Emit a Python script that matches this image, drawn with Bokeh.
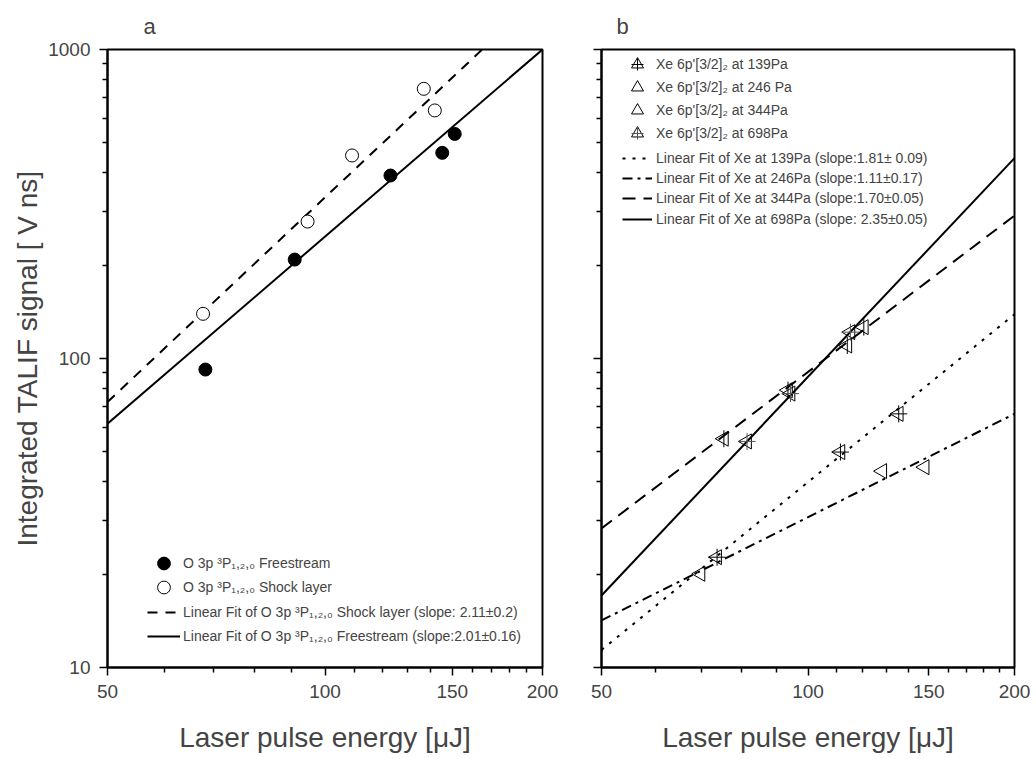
import numpy as np
from bokeh.plotting import figure
from bokeh.layouts import row
from bokeh.models import (FixedTicker, PrintfTickFormatter, CustomJSTickFormatter,
                          Legend, LegendItem, Range1d)
from bokeh.embed import file_html
from bokeh.resources import INLINE

# ---------------- Panel a data (O 3p 3P) ----------------
free_x = [68.3, 90.8, 123.2, 145.3, 151.2]
free_y = [92.1, 209.0, 391.0, 463.0, 533.0]
shock_x = [67.8, 94.6, 109.0, 137.0, 141.9]
shock_y = [139.5, 277.5, 454.0, 746.0, 635.0]
fit_a_x = [50, 200]
fit_shock_y = [72.3, 1526.0]
fit_free_y = [61.5, 1000.0]

# ---------------- Panel b data (Xe 6p'[3/2]2) ----------------
xe139_x = [73.7, 111.5, 135.6]
xe139_y = [22.75, 49.8, 66.2]
xe246_x = [69.7, 128.3, 147.9]
xe246_y = [20.1, 43.2, 44.5]
xe344_x = [75.4, 93.5, 114.1, 120.6]
xe344_y = [55.0, 79.0, 110.2, 126.3]
xe698_x = [81.5, 94.3, 115.3]
xe698_y = [53.9, 77.0, 121.7]
fit_b_x = [50, 200]
fit139_y = [11.4, 139.0]
fit246_y = [14.2, 66.2]
fit344_y = [28.2, 290.0]
fit698_y = [17.1, 445.0]

x_major = [50, 100, 150, 200]
x_minor = [60, 70, 80, 90, 110, 120, 130, 140, 160, 170, 180, 190]
y_major = [10, 100, 1000]
y_minor = [20, 30, 40, 50, 60, 70, 80, 90, 200, 300, 400, 500, 600, 700, 800, 900]

FONT = "Liberation Sans"
H = 759
TOP = 49
FRAME_H = 618
BOTTOM = H - TOP - FRAME_H


def make_fig(title, width, mbl, mbr, title_offset, ylabels):
    p = figure(width=width, height=H, x_axis_type="log", y_axis_type="log",
               x_range=Range1d(50, 200), y_range=Range1d(10, 1000),
               output_backend="svg", toolbar_location=None, title=title,
               min_border_left=mbl, min_border_right=mbr,
               min_border_top=TOP, min_border_bottom=BOTTOM)
    p.title.text_font = FONT
    p.title.text_font_size = "22px"
    p.title.text_font_style = "normal"
    p.title.align = "left"
    p.title.offset = title_offset
    p.title.standoff = 22
    p.xgrid.visible = False
    p.ygrid.visible = False
    p.outline_line_color = "black"
    p.outline_line_width = 2
    p.outline_line_alpha = 1
    p.background_fill_color = "white"
    p.border_fill_color = "white"
    p.xaxis.ticker = FixedTicker(ticks=x_major, minor_ticks=x_minor)
    p.yaxis.ticker = FixedTicker(ticks=y_major, minor_ticks=y_minor)
    p.xaxis.formatter = PrintfTickFormatter(format="%d")
    if ylabels:
        p.yaxis.formatter = PrintfTickFormatter(format="%d")
        p.yaxis.axis_label = "Integrated TALIF signal [ V ns]"
    else:
        p.yaxis.formatter = CustomJSTickFormatter(code="return ''")
    p.xaxis.axis_label = "Laser pulse energy [\u03bcJ]"
    for ax in (p.xaxis[0], p.yaxis[0]):
        ax.axis_line_width = 2
        ax.major_tick_line_width = 1.5
        ax.minor_tick_line_width = 1.5
        ax.major_tick_out = 8
        ax.major_tick_in = 0
        ax.minor_tick_out = 5
        ax.minor_tick_in = 0
        ax.major_label_text_font = FONT
        ax.major_label_text_font_size = "19px"
        ax.axis_label_text_font = FONT
        ax.axis_label_text_font_size = "28px"
        ax.axis_label_text_font_style = "normal"
    p.yaxis.major_label_standoff = 9
    p.yaxis.axis_label_standoff = 2
    p.xaxis.major_label_standoff = 9
    p.xaxis.axis_label_standoff = 21
    return p


def row_legend(p, label, renderers, x, center, gw, standoff):
    # one legend row; center = row centre measured from the frame top (px)
    leg = Legend(items=[LegendItem(label=label, renderers=renderers)],
                 location=(x, FRAME_H - center - 16), glyph_width=gw, glyph_height=32,
                 label_height=32, padding=0, margin=0, spacing=0,
                 label_standoff=standoff, label_text_font=FONT, label_text_font_size="14px",
                 border_line_color=None, background_fill_alpha=0)
    p.add_layout(leg)


# ---------------- Panel a ----------------
pa = make_fig("a", 562, 107, 20, 36, True)
l_shock = pa.line(fit_a_x, fit_shock_y, line_color="black", line_width=2, line_dash="10 8")
l_free = pa.line(fit_a_x, fit_free_y, line_color="black", line_width=2)
s_free = pa.scatter(free_x, free_y, marker="circle", size=13,
                    fill_color="black", line_color="black")
s_shock = pa.scatter(shock_x, shock_y, marker="circle", size=13,
                     fill_color="white", line_color="black", line_width=1)

legend_a = [
    ("O 3p \u00b3P\u2081,\u2082,\u2080 Freestream", [s_free], 514),
    ("O 3p \u00b3P\u2081,\u2082,\u2080 Shock layer", [s_shock], 538),
    ("Linear Fit of O 3p \u00b3P\u2081,\u2082,\u2080 Shock layer (slope: 2.11\u00b10.2)", [l_shock], 563),
    ("Linear Fit of O 3p \u00b3P\u2081,\u2082,\u2080 Freestream (slope:2.01\u00b10.16)", [l_free], 587),
]
for lab, rends, c in legend_a:
    row_legend(pa, lab, rends, 40, c, 33, 3)

# ---------------- Panel b ----------------
pb = make_fig("b", 474, 39, 22, 15, False)
lf139 = pb.line(fit_b_x, fit139_y, line_color="black", line_width=2, line_dash="3 7")
lf246 = pb.line(fit_b_x, fit246_y, line_color="black", line_width=2, line_dash="10 5 3 5")
lf344 = pb.line(fit_b_x, fit344_y, line_color="black", line_width=2, line_dash="13 8")
lf698 = pb.line(fit_b_x, fit698_y, line_color="black", line_width=2)

TRI = dict(marker="triangle", angle=np.pi / 2, size=15, fill_color=None,
           line_color="black", line_width=1)
t139 = pb.scatter(xe139_x, xe139_y, **TRI)
e139 = pb.scatter(xe139_x, xe139_y, marker="cross", size=17, line_color="black", line_width=1)
t246 = pb.scatter(xe246_x, xe246_y, **TRI)
t344 = pb.scatter(xe344_x, xe344_y, **TRI)
e344 = pb.scatter(xe344_x, xe344_y, marker="dash", angle=np.pi / 2, size=17,
                  line_color="black", line_width=1)
t698 = pb.scatter(xe698_x, xe698_y, **TRI)
e698 = pb.scatter(xe698_x, xe698_y, marker="cross", size=17, line_color="#555555", line_width=1)

legend_b = [
    ("Xe 6p'[3/2]\u2082 at 139Pa", [t139, e139], 15),
    ("Xe 6p'[3/2]\u2082 at 246 Pa", [t246], 38),
    ("Xe 6p'[3/2]\u2082 at 344Pa", [t344], 61),
    ("Xe 6p'[3/2]\u2082 at 698Pa", [t698, e698], 84),
    ("Linear Fit of Xe at 139Pa (slope:1.81\u00b1 0.09)", [lf139], 109),
    ("Linear Fit of Xe at 246Pa (slope:1.11\u00b10.17)", [lf246], 129),
    ("Linear Fit of Xe at 344Pa (slope:1.70\u00b10.05)", [lf344], 149),
    ("Linear Fit of Xe at 698Pa (slope: 2.35\u00b10.05)", [lf698], 170),
]
for lab, rends, c in legend_b:
    row_legend(pb, lab, rends, 21, c, 30, 4)

layout = row(pa, pb)
open("out.html", "w").write(file_html(layout, INLINE))
